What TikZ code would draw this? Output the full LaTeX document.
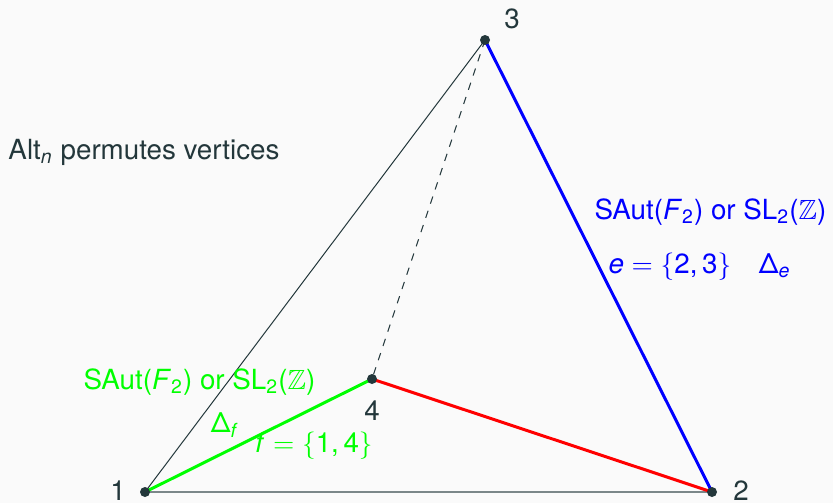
\documentclass[tikz,border=0pt]{standalone}
\usepackage{amsmath,amssymb}
\usepackage{fontspec}
\setmainfont{TeX Gyre Heros}
\usepackage{xcolor}
\usepackage{tikz}
\usetikzlibrary{positioning,calc}

\definecolor{bgcol}{HTML}{FAFAFA}
\definecolor{inkcol}{HTML}{23373B}

\begin{document}
\begin{tikzpicture}[
    x=0.4pt, y=0.4pt,
    every node/.style={font=\fontsize{11.1}{13}\selectfont, text=inkcol},
    vert/.style={circle, fill=inkcol, inner sep=0pt, minimum size=4pt},
    vlabel/.style={inner sep=1pt},
    thinedge/.style={draw=inkcol, line width=0.4pt},
    bluelbl/.style={text=blue, anchor=west, inner sep=0pt},
    greenlbl/.style={text=green, inner sep=0pt},
]

% background
\fill[bgcol] (0,0) rectangle (833,503);
\useasboundingbox (0,0) rectangle (833,503);

% =============================================
% vertices
% =============================================
\coordinate (v1) at (145, 11);
\coordinate (v2) at (712, 11);
\coordinate (v3) at (485, 463);
\coordinate (v4) at (372, 124);

% =============================================
% edges
% =============================================
\draw[thinedge] (v1) -- (v3);
\draw[draw=inkcol!60, line width=0.6pt] (v1) -- (v2);
\draw[thinedge, dashed] (v3) -- (v4);
\draw[green, line width=1.2pt] (v1) -- (v4);
\draw[red, line width=1.2pt] (v4) -- (v2);
\draw[blue, line width=1.2pt] (v3) -- (v2);

\node[vert] (n1) at (v1) {};
\node[vert] (n2) at (v2) {};
\node[vert] (n3) at (v3) {};
\node[vert] (n4) at (v4) {};

% vertex numbers
\node[vlabel] (l1) at (118, 12) {1};
\node[vlabel] (l2) at (741, 12) {2};
\node[vlabel] (l3) at (512, 484) {3};
\node[vlabel] (l4) at (372, 92) {4};

% =============================================
% labels
% =============================================
\node[anchor=west, inner sep=0pt] (alt) at (8, 351)
    {Alt$_{\textit{n}}$ permutes vertices};

\node[bluelbl] (lblE) at (594, 291)
    {SAut(\textit{F}$_{\text{2}}$) or SL$_{\text{2}}$($\mathbb{Z}$)};
\node[bluelbl] (setE) at (608, 236)
    {\textit{e} $=$ $\{$2,\,3$\}$\quad Δ$_{\textit{e}}$};

\node[greenlbl, anchor=west] (lblF) at (83, 121)
    {SAut(\textit{F}$_{\text{2}}$) or SL$_{\text{2}}$($\mathbb{Z}$)};
\node[greenlbl] (deltaF) at (224, 78) {Δ$_{\textit{f}}$};
\node[greenlbl] (setF) at (314, 57) {\textit{f} $=$ $\{$1,\,4$\}$};

\end{tikzpicture}
\end{document}
